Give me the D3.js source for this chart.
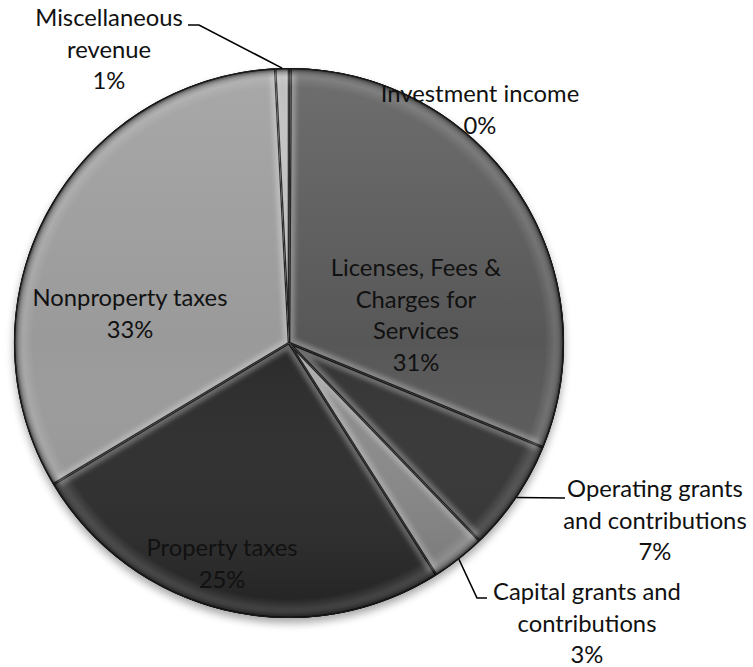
<!DOCTYPE html>
<html>
<head>
<meta charset="utf-8">
<script src="https://cdn.jsdelivr.net/npm/d3@7"></script>
<style>
  html, body { margin: 0; padding: 0; background: #fff; }
  svg { display: block; }
</style>
</head>
<body>
<svg id="chart" width="753" height="667"></svg>
<script>
// Revenue sources, clockwise from 12 o'clock
const categories = [
  "Investment income",
  "Licenses, Fees & Charges for Services",
  "Operating grants and contributions",
  "Capital grants and contributions",
  "Property taxes",
  "Nonproperty taxes",
  "Miscellaneous revenue"
];
const shares = [0.1, 31.1, 6.6, 3.2, 25.4, 32.8, 0.8];   // percent of total revenue
const labelLines = [
  ["Investment income"],
  ["Licenses, Fees &", "Charges for", "Services"],
  ["Operating grants", "and contributions"],
  ["Capital grants and", "contributions"],
  ["Property taxes"],
  ["Nonproperty taxes"],
  ["Miscellaneous", "revenue"]
];
const sliceGrays = ["#3a3a3a", "#575757", "#333333", "#8a8a8a", "#2a2a2a", "#9a9a9a", "#a4a4a4"];

// Layout
const W = 753, H = 667;
const cx = 289, cy = 343, R = 275;
const fontFamily = "Lato, 'Open Sans', sans-serif";
const lineH = 31.5;
// label anchor (centre of first baseline) relative to pie centre
const labelAnchors = [[191, -241], [127, -67], [366, 154], [298, 257], [-67, 213], [-159, -37], [-180, -317]];
// leader line bends, relative to pie centre (null = no leader)
const leaderBends = [null, null, [[276, 155]], [[188, 255], [198, 255]], null, null, [[-90, -318], [-101, -318]]];

const svg = d3.select("#chart");
const defs = svg.append("defs");

// fit the label font so text sets at the chart's label width
const probe = svg.append("text").attr("font-family", fontFamily).attr("font-size", 100).text("Nonproperty taxes");
const fontSize = 100 * 195 / probe.node().getComputedTextLength();
probe.remove();

defs.append("filter").attr("id", "shadow").attr("x", "-20%").attr("y", "-20%").attr("width", "140%").attr("height", "140%")
  .append("feGaussianBlur").attr("stdDeviation", 4);
defs.append("filter").attr("id", "soft").attr("x", "-10%").attr("y", "-10%").attr("width", "120%").attr("height", "120%")
  .append("feGaussianBlur").attr("stdDeviation", 2.2);

// gradients live in the pie group's local space (origin at the pie centre)
const vg = defs.append("linearGradient").attr("id", "vlight").attr("gradientUnits", "userSpaceOnUse")
  .attr("x1", 0).attr("y1", -R).attr("x2", 0).attr("y2", R);
vg.append("stop").attr("offset", 0).attr("stop-color", "#fff").attr("stop-opacity", 0.14);
vg.append("stop").attr("offset", 0.5).attr("stop-color", "#fff").attr("stop-opacity", 0);
vg.append("stop").attr("offset", 1).attr("stop-color", "#000").attr("stop-opacity", 0.2);

const rg = defs.append("radialGradient").attr("id", "rim").attr("gradientUnits", "userSpaceOnUse")
  .attr("cx", 0).attr("cy", 0).attr("r", R);
rg.append("stop").attr("offset", 0.93).attr("stop-color", "#fff").attr("stop-opacity", 0);
rg.append("stop").attr("offset", 0.965).attr("stop-color", "#fff").attr("stop-opacity", 0.12);
rg.append("stop").attr("offset", 0.985).attr("stop-color", "#000").attr("stop-opacity", 0.25);
rg.append("stop").attr("offset", 1).attr("stop-color", "#000").attr("stop-opacity", 0.75);

const pie = d3.pie().sort(null).value(d => d).startAngle(0).endAngle(2 * Math.PI);
const arcs = pie(shares);
const arc = d3.arc().innerRadius(0).outerRadius(R);

const root = svg.append("g").attr("transform", `translate(${cx},${cy})`);

// soft drop shadow under the pie
root.append("circle").attr("cx", 0).attr("cy", 5).attr("r", R).attr("fill", "#000")
  .attr("opacity", 0.35).attr("filter", "url(#shadow)");

arcs.forEach((d, i) => {
  defs.append("clipPath").attr("id", "clip-" + i).append("path").attr("d", arc(d));
});

const slice = root.selectAll("g.slice").data(arcs).join("g").attr("class", "slice");
slice.append("path").attr("d", arc).attr("fill", (d, i) => sliceGrays[i]);
// bevel highlight just inside each slice edge
slice.append("path").attr("d", arc).attr("fill", "none")
  .attr("stroke", "#fff").attr("stroke-opacity", 0.28).attr("stroke-width", 11)
  .attr("filter", "url(#soft)").attr("clip-path", (d, i) => `url(#clip-${i})`);
// dark crease on the slice borders
slice.append("path").attr("d", arc).attr("fill", "none")
  .attr("stroke", "#050505").attr("stroke-opacity", 0.85).attr("stroke-width", 2.6)
  .attr("clip-path", (d, i) => `url(#clip-${i})`);

root.append("circle").attr("r", R).attr("fill", "url(#vlight)");
root.append("circle").attr("r", R).attr("fill", "url(#rim)");
root.append("circle").attr("r", R - 0.5).attr("fill", "none").attr("stroke", "#1a1a1a").attr("stroke-width", 1.2);

// leader lines
arcs.forEach((d, i) => {
  if (!leaderBends[i]) return;
  const mid = (d.startAngle + d.endAngle) / 2;
  const pts = [[R * Math.sin(mid), -R * Math.cos(mid)]].concat(leaderBends[i]);
  root.append("path").attr("d", d3.line()(pts)).attr("fill", "none")
    .attr("stroke", "#000").attr("stroke-width", 1.6);
});

// data labels
arcs.forEach((d, i) => {
  const [ax, ay] = labelAnchors[i];
  const t = root.append("text").attr("font-family", fontFamily).attr("font-size", fontSize)
    .attr("fill", "#111").attr("text-anchor", "middle");
  const lines = labelLines[i].concat([Math.round(shares[i]) + "%"]);
  lines.forEach((s, k) => {
    t.append("tspan").attr("x", ax).attr("y", ay + k * lineH).text(s);
  });
});
</script>
</body>
</html>
